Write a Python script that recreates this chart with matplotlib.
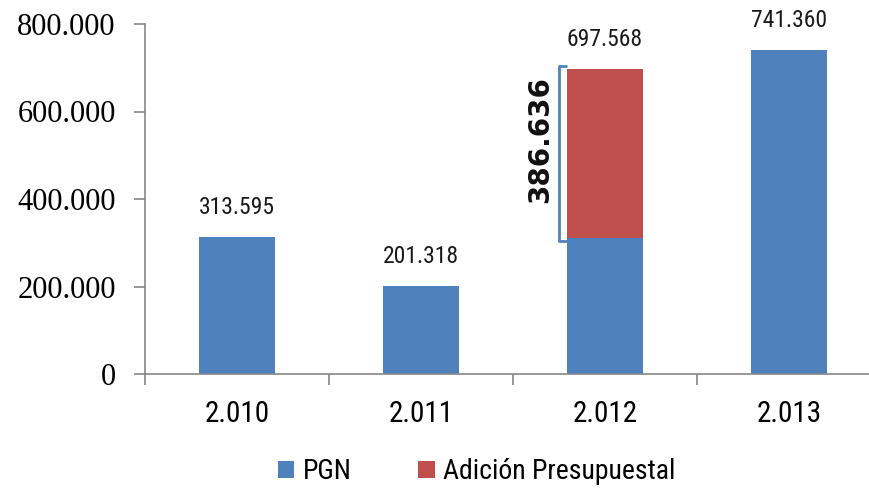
import numpy as np
import matplotlib.pyplot as plt
from matplotlib import font_manager

years = ['2.010', '2.011', '2.012', '2.013']
pgn = [313595, 201318, 310932, 741360]
adicion = [0, 0, 386636, 0]
totals = ['313.595', '201.318', '697.568', '741.360']
adicion_label = '386.636'
yticks = [0, 200000, 400000, 600000, 800000]
ytick_labels = ['0', '200.000', '400.000', '600.000', '800.000']

blue = '#4F81BD'
red = '#C0504D'
gray = '#868686'

names = {f.name for f in font_manager.fontManager.ttflist}
narrow = 'DejaVu Sans'
for n in ['Liberation Sans Narrow', 'Roboto Condensed', 'DejaVu Sans Condensed',
          'Open Sans Condensed']:
    if n in names:
        narrow = n
        break
serif = 'Liberation Serif'

fig = plt.figure(figsize=(8.7, 4.93), dpi=100)
ax = fig.add_axes([145 / 870, 1 - 374 / 493, 725 / 870, 350 / 493])

x = np.arange(len(years))
w = 0.41
ax.bar(x, pgn, w, color=blue, label='PGN', zorder=2)
ax.bar(x, adicion, w, bottom=pgn, color=red, label='Adición Presupuestal', zorder=2)

for i, t in enumerate(totals):
    top = pgn[i] + adicion[i]
    ax.annotate(t, (x[i], top), xytext=(0, 13), textcoords='offset points',
                ha='center', va='bottom', fontsize=17, family=narrow, color='#1a1a1a')

# bracket for the addition
bx = 2 - w / 2 - 0.045
lo, hi = pgn[2] - 6000, pgn[2] + adicion[2] + 7000
ax.plot([bx + 0.045, bx, bx, bx + 0.045], [lo, lo, hi, hi], color=blue, lw=2,
        solid_capstyle='butt', clip_on=False, zorder=3)
ax.text(bx - 0.1, (lo + hi) / 2 + 30000, adicion_label, rotation=90, ha='center', va='center',
        fontsize=20, fontweight='bold', family='DejaVu Sans', color='#111111')

ax.set_ylim(0, 800000)
ax.set_xlim(-0.5, 3.44)
ax.set_yticks(yticks)
ax.set_yticklabels(ytick_labels, family=serif, fontsize=22)
ax.set_xticks(x)
ax.set_xticklabels(years, family=narrow, fontsize=21)
ax.set_xticks(np.arange(-0.5, 3.5, 1), minor=True)
ax.tick_params(axis='x', which='major', length=0, pad=19)
ax.tick_params(axis='x', which='minor', length=8, color=gray, width=1.2)
ax.tick_params(axis='y', length=8, color=gray, width=1.2, pad=13)

for s in ['top', 'right']:
    ax.spines[s].set_visible(False)
for s in ['left', 'bottom']:
    ax.spines[s].set_color(gray)
    ax.spines[s].set_linewidth(1.2)

fig.legend(loc='center', bbox_to_anchor=(0.548, 0.043), ncol=2, frameon=False,
           prop={'family': narrow, 'size': 20}, handlelength=0.6, handleheight=0.6,
           handletextpad=0.3, columnspacing=2.4)

fig.savefig('out.png', dpi=100)
